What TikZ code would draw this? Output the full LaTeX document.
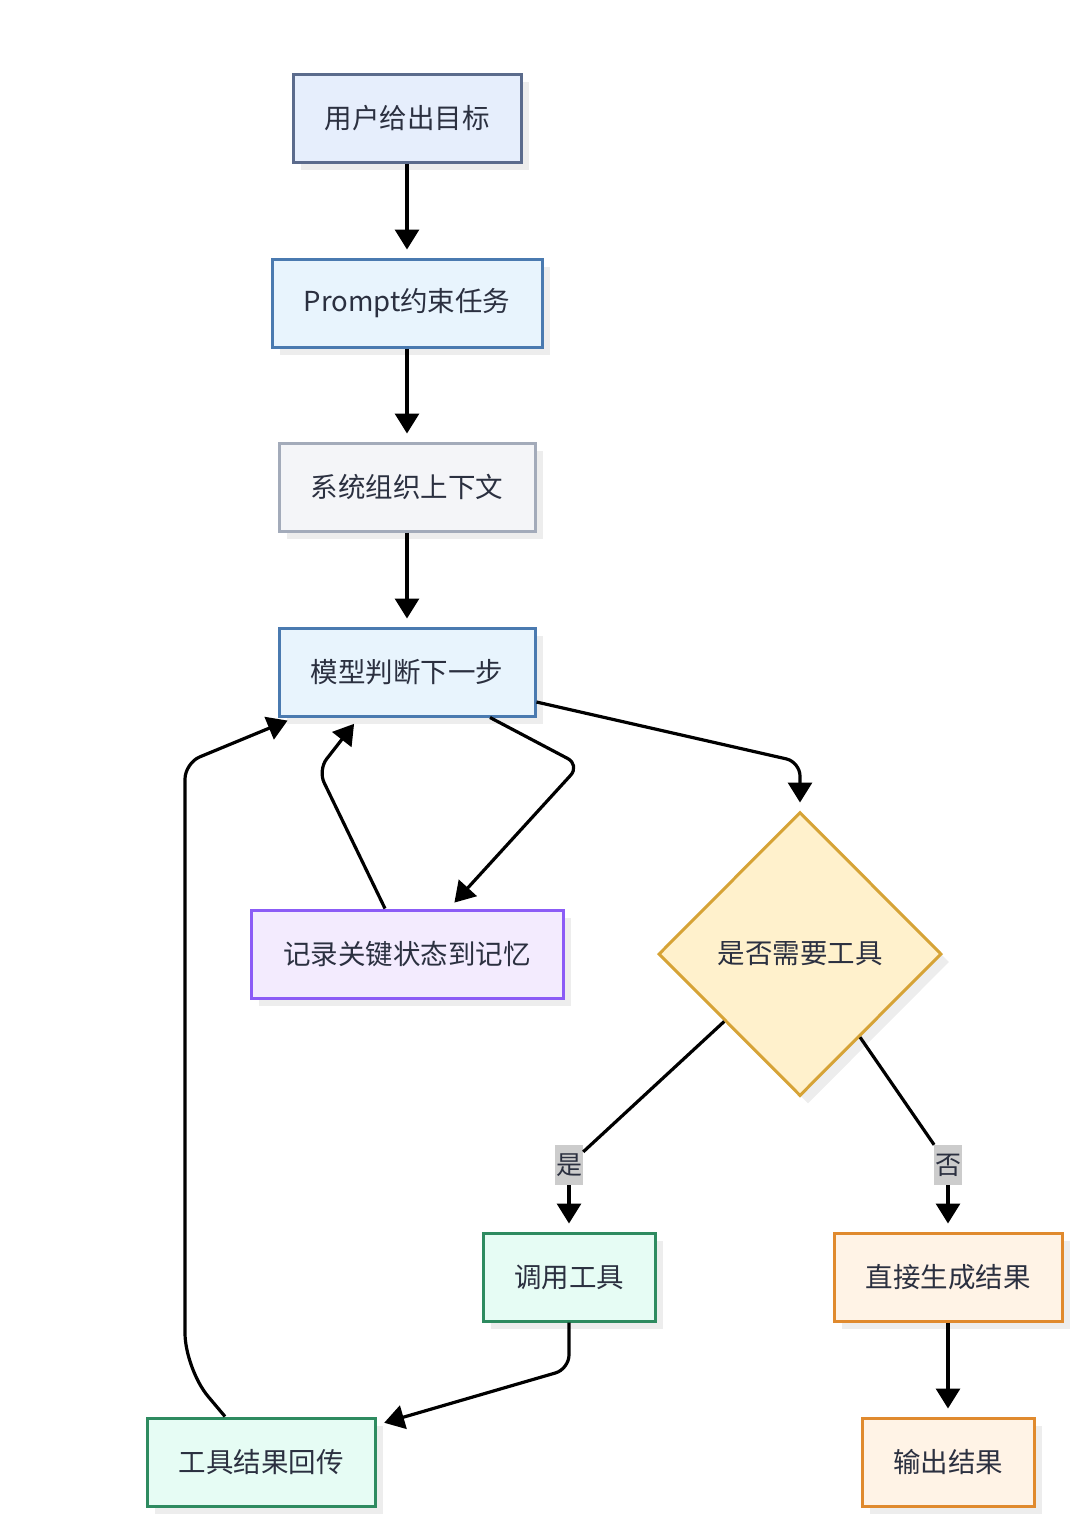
\documentclass[tikz,border=0pt]{standalone}
\usepackage{fontspec}
\usepackage{tikz}
\usetikzlibrary{arrows.meta,shapes.geometric,shadows,calc}
\newfontfamily\cjk{Noto Sans CJK SC}
\definecolor{txt}{HTML}{2B3040}
\definecolor{goalfill}{HTML}{E6EEFC}
\definecolor{goaldraw}{HTML}{5B6B8C}
\definecolor{bluefill}{HTML}{E8F4FD}
\definecolor{bluedraw}{HTML}{4A7AB0}
\definecolor{grayfill}{HTML}{F4F5F8}
\definecolor{graydraw}{HTML}{A3ABBA}
\definecolor{purpfill}{HTML}{F3EBFE}
\definecolor{purpdraw}{HTML}{8B5CF6}
\definecolor{yelfill}{HTML}{FFF1CC}
\definecolor{yeldraw}{HTML}{D6A336}
\definecolor{grnfill}{HTML}{E6FCF4}
\definecolor{grndraw}{HTML}{2E8B60}
\definecolor{orgfill}{HTML}{FFF3E6}
\definecolor{orgdraw}{HTML}{E08A2E}

\begin{document}
\begin{tikzpicture}[x=1pt, y=-1pt,
	box/.style={draw, line width=3pt, minimum height=88pt, inner sep=0pt, text=txt,
		font=\cjk\fontsize{27.5}{33}\selectfont,
		drop shadow={shadow xshift=8pt, shadow yshift=-8pt, fill=black!7, opacity=1}},
	arr/.style={line width=3.2pt, -{Triangle[length=20pt,width=24pt]}, shorten >=8pt, rounded corners=14pt},
	lbl/.style={fill=black!20, inner xsep=1pt, inner ysep=0pt, minimum height=40pt, text=txt,
		font=\cjk\fontsize{26}{30}\selectfont}]
	\useasboundingbox (0, 0) rectangle (1080, 1521);
	\node (goal) at (407, 118) [box, fill=goalfill, draw=goaldraw, minimum width=228pt] {用户给出目标};
	\node (prompt) at (407, 303) [box, fill=bluefill, draw=bluedraw, minimum width=270pt] {Prompt约束任务};
	\node (context) at (407, 487) [box, fill=grayfill, draw=graydraw, minimum width=256pt] {系统组织上下文};
	\node (model) at (407, 672) [box, fill=bluefill, draw=bluedraw, minimum width=256pt] {模型判断下一步};
	\node (memory) at (407, 954) [box, fill=purpfill, draw=purpdraw, minimum width=312pt] {记录关键状态到记忆};
	\node (need) at (800, 954) [box, diamond, fill=yelfill, draw=yeldraw, minimum width=283pt, minimum height=284pt] {是否需要工具};
	\node (call) at (569, 1277) [box, fill=grnfill, draw=grndraw, minimum width=172pt] {调用工具};
	\node (direct) at (948, 1277) [box, fill=orgfill, draw=orgdraw, minimum width=228pt] {直接生成结果};
	\node (back) at (261, 1462) [box, fill=grnfill, draw=grndraw, minimum width=228pt] {工具结果回传};
	\node (output) at (948, 1462) [box, fill=orgfill, draw=orgdraw, minimum width=172pt] {输出结果};
	\node (yes) at (569, 1165) [lbl] {是};
	\node (no) at (948, 1165) [lbl] {否};

	\draw [arr] (goal) -- (prompt);
	\draw [arr] (prompt) -- (context);
	\draw [arr] (context) -- (model);
	\draw [arr] ([xshift=83pt]model.south) -- (580, 765) -- ([xshift=42pt]memory.north);
	\draw [arr] ([xshift=-22pt]memory.north) -- (318, 770) -- ([xshift=-48pt]model.south);
	\draw [arr] ([yshift=-30pt]model.east) -- (800, 762) -- (need.north);
	\draw [line width=3.2pt] ($(need.west)!0.47!(need.south)$) -- (yes);
	\draw [line width=3.2pt] ($(need.east)!0.58!(need.south)$) -- (no);
	\draw [arr] (yes) -- (call);
	\draw [arr] (no) -- (direct);
	\draw [arr] (direct) -- (output);
	\draw [arr] (call.south) -- (569, 1369) -- ([yshift=37pt]back.east);
	\draw [arr, rounded corners=36pt] ([xshift=-36pt]back.north) -- (185, 1369) [rounded corners=16pt] -- (185, 763) -- ([xshift=-112pt]model.south);
\end{tikzpicture}
\end{document}
